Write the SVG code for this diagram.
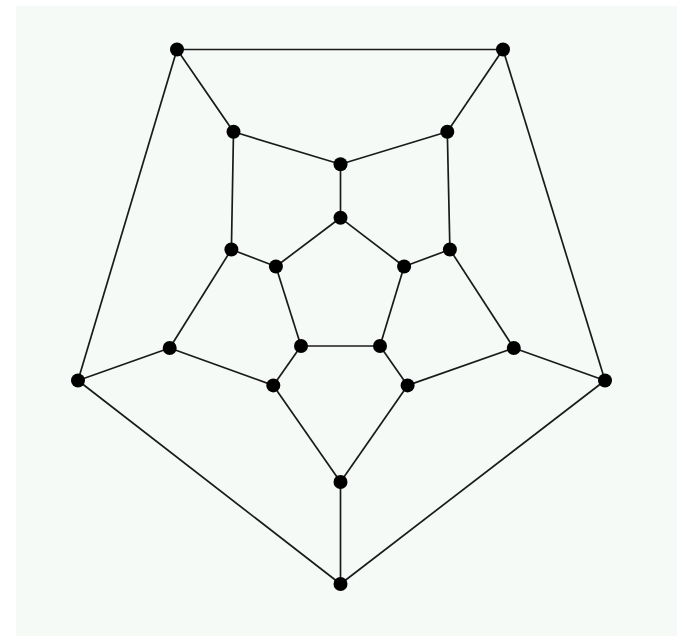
<svg xmlns="http://www.w3.org/2000/svg" width="677" height="636" viewBox="0 0 677 636">
<style>
.e{stroke:#1a1a1a;stroke-width:1.7;fill:none}
.n{fill:#000}
</style>
<rect x="0" y="0" width="677" height="636" fill="#ffffff"/>
<rect x="16" y="6" width="661" height="630" fill="#f6faf7"/>
<g id="connectors" class="e">
<line x1="177" y1="49.5" x2="503" y2="49.5"/>
<line x1="177" y1="49.5" x2="78" y2="380.5"/>
<line x1="177" y1="49.5" x2="233.5" y2="131.8"/>
<line x1="503" y1="49.5" x2="605" y2="380.5"/>
<line x1="503" y1="49.5" x2="447.3" y2="131.8"/>
<line x1="233.5" y1="131.8" x2="340.5" y2="164.3"/>
<line x1="447.3" y1="131.8" x2="340.5" y2="164.3"/>
<line x1="340.5" y1="164.3" x2="340.5" y2="217.8"/>
<line x1="233.5" y1="131.8" x2="231.4" y2="249.5"/>
<line x1="447.3" y1="131.8" x2="449.9" y2="249.5"/>
<line x1="340.5" y1="217.8" x2="275.9" y2="266.5"/>
<line x1="340.5" y1="217.8" x2="404.1" y2="266.5"/>
<line x1="231.4" y1="249.5" x2="275.9" y2="266.5"/>
<line x1="449.9" y1="249.5" x2="404.1" y2="266.5"/>
<line x1="231.4" y1="249.5" x2="169.7" y2="348"/>
<line x1="449.9" y1="249.5" x2="513.8" y2="348"/>
<line x1="275.9" y1="266.5" x2="301" y2="346"/>
<line x1="404.1" y1="266.5" x2="380" y2="346"/>
<line x1="301" y1="346" x2="380" y2="346"/>
<line x1="169.7" y1="348" x2="78" y2="380.5"/>
<line x1="513.8" y1="348" x2="605" y2="380.5"/>
<line x1="169.7" y1="348" x2="273.3" y2="385.4"/>
<line x1="513.8" y1="348" x2="407.6" y2="385.4"/>
<line x1="301" y1="346" x2="273.3" y2="385.4"/>
<line x1="380" y1="346" x2="407.6" y2="385.4"/>
<line x1="273.3" y1="385.4" x2="340.5" y2="482"/>
<line x1="407.6" y1="385.4" x2="340.5" y2="482"/>
<line x1="340.5" y1="482" x2="340.5" y2="584"/>
<line x1="78" y1="380.5" x2="340.5" y2="584"/>
<line x1="605" y1="380.5" x2="340.5" y2="584"/>
</g>
<g id="v1"><circle class="n" cx="177" cy="49.5" r="7"/></g>
<g id="v2"><circle class="n" cx="503" cy="49.5" r="7"/></g>
<g id="v3"><circle class="n" cx="233.5" cy="131.8" r="7"/></g>
<g id="v4"><circle class="n" cx="447.3" cy="131.8" r="7"/></g>
<g id="v5"><circle class="n" cx="340.5" cy="164.3" r="7"/></g>
<g id="v6"><circle class="n" cx="340.5" cy="217.8" r="7"/></g>
<g id="v7"><circle class="n" cx="231.4" cy="249.5" r="7"/></g>
<g id="v8"><circle class="n" cx="449.9" cy="249.5" r="7"/></g>
<g id="v9"><circle class="n" cx="275.9" cy="266.5" r="7"/></g>
<g id="v10"><circle class="n" cx="404.1" cy="266.5" r="7"/></g>
<g id="v11"><circle class="n" cx="169.7" cy="348" r="7"/></g>
<g id="v12"><circle class="n" cx="513.8" cy="348" r="7"/></g>
<g id="v13"><circle class="n" cx="301" cy="346" r="7"/></g>
<g id="v14"><circle class="n" cx="380" cy="346" r="7"/></g>
<g id="v15"><circle class="n" cx="78" cy="380.5" r="7"/></g>
<g id="v16"><circle class="n" cx="605" cy="380.5" r="7"/></g>
<g id="v17"><circle class="n" cx="273.3" cy="385.4" r="7"/></g>
<g id="v18"><circle class="n" cx="407.6" cy="385.4" r="7"/></g>
<g id="v19"><circle class="n" cx="340.5" cy="482" r="7"/></g>
<g id="v20"><circle class="n" cx="340.5" cy="584" r="7"/></g>
</svg>
